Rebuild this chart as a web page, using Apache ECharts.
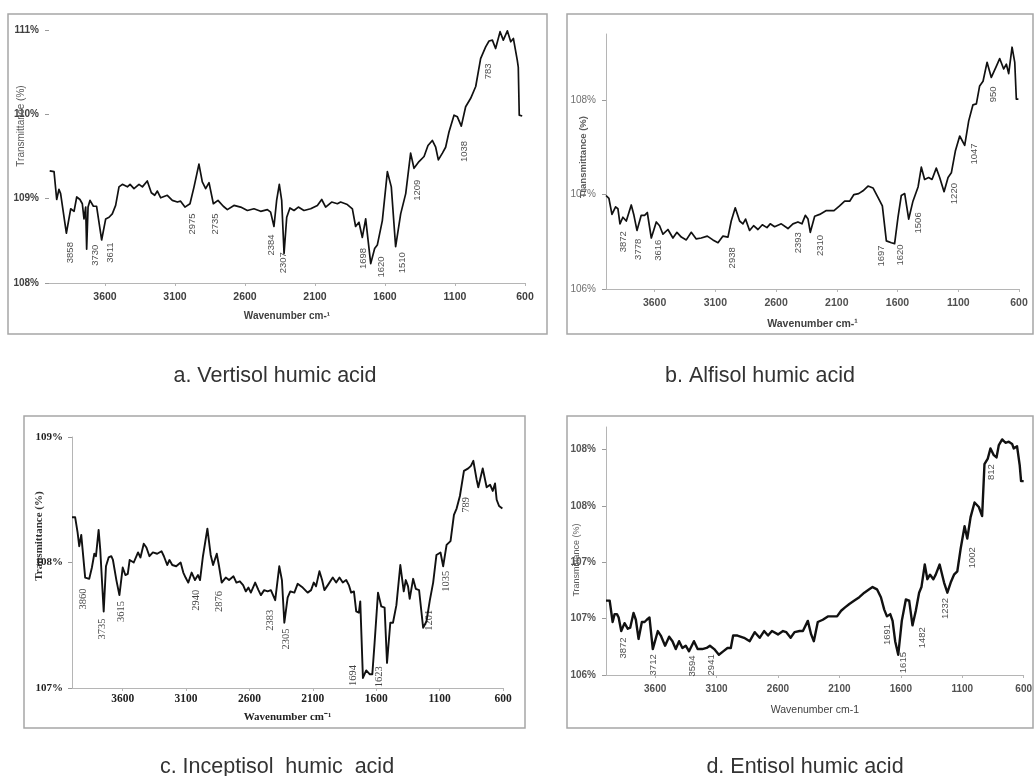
<!DOCTYPE html>
<html><head><meta charset="utf-8">
<script src="https://cdn.jsdelivr.net/npm/echarts@6/dist/echarts.min.js"></script>
<style>html,body{margin:0;padding:0;background:#fff}#c{width:1035px;height:776px}</style>
</head><body><div id="c"></div>
<script>
// ---- data (wavenumber cm-1, transmittance %) ----
const vertisol = [[3995,109.33],[3964,109.32],[3945,108.99],[3929,109.11],[3917,109.06],[3876,108.59],[3845,108.88],[3821,108.85],[3802,109.02],[3779,108.99],[3762,108.94],[3750,108.76],[3738,108.90],[3731,108.40],[3721,108.90],[3707,108.98],[3683,108.91],[3660,108.91],[3624,108.51],[3595,108.76],[3571,108.78],[3548,108.82],[3524,108.92],[3500,109.14],[3476,109.17],[3440,109.14],[3421,109.17],[3393,109.12],[3357,109.17],[3333,109.14],[3298,109.21],[3269,109.07],[3245,109.04],[3226,109.09],[3202,109.01],[3155,109.04],[3119,108.98],[3083,108.96],[3060,108.97],[3029,108.90],[2993,108.94],[2964,109.14],[2929,109.41],[2905,109.20],[2881,109.12],[2857,109.19],[2826,108.94],[2793,108.98],[2755,108.91],[2726,108.87],[2679,108.92],[2631,108.90],[2583,108.86],[2536,108.88],[2488,108.85],[2440,108.87],[2417,108.84],[2393,108.67],[2374,108.98],[2355,109.17],[2338,108.98],[2321,108.35],[2302,108.78],[2279,108.89],[2250,108.86],[2219,108.90],[2179,108.86],[2131,108.88],[2083,108.92],[2052,108.99],[2024,108.90],[1981,108.96],[1940,108.94],[1917,108.96],[1869,108.93],[1833,108.88],[1810,108.67],[1786,108.72],[1762,108.54],[1738,108.76],[1702,108.23],[1674,108.41],[1655,108.45],[1619,108.74],[1583,109.32],[1555,109.14],[1524,108.43],[1488,108.82],[1452,109.06],[1417,109.54],[1393,109.36],[1357,109.44],[1321,109.50],[1293,109.63],[1262,109.69],[1238,109.61],[1219,109.46],[1190,109.54],[1167,109.61],[1143,109.79],[1107,109.99],[1083,109.97],[1055,109.86],[1024,110.09],[988,110.19],[952,110.33],[917,110.66],[881,110.80],[857,110.87],[833,110.88],[810,110.78],[778,110.98],[755,110.88],[726,110.99],[702,110.86],[683,110.90],[655,110.64],[648,110.56],[641,109.99],[620,109.98]];
const alfisol = [[4000,106.99],[3976,106.96],[3951,106.79],[3921,106.87],[3902,106.85],[3885,106.69],[3861,106.76],[3833,106.72],[3792,106.89],[3770,106.78],[3745,106.62],[3710,106.78],[3682,106.78],[3660,106.81],[3627,106.54],[3586,106.71],[3559,106.67],[3531,106.58],[3490,106.63],[3449,106.54],[3416,106.60],[3380,106.55],[3339,106.52],[3298,106.60],[3257,106.53],[3216,106.54],[3166,106.56],[3120,106.52],[3078,106.49],[3037,106.56],[2996,106.55],[2969,106.72],[2936,106.86],[2900,106.72],[2873,106.69],[2851,106.74],[2818,106.62],[2785,106.67],[2749,106.63],[2713,106.68],[2675,106.65],[2648,106.69],[2612,106.66],[2557,106.69],[2502,106.64],[2461,106.69],[2420,106.71],[2387,106.69],[2359,106.78],[2337,106.74],[2318,106.60],[2282,106.77],[2241,106.79],[2186,106.83],[2123,106.83],[2077,106.88],[2035,106.93],[1994,106.93],[1959,107.00],[1920,107.01],[1884,107.04],[1843,107.09],[1802,107.07],[1761,106.97],[1725,106.88],[1692,106.51],[1651,106.49],[1624,106.48],[1596,106.76],[1569,106.99],[1541,107.01],[1508,106.74],[1473,106.93],[1431,107.08],[1404,107.29],[1377,107.16],[1344,107.18],[1316,107.16],[1281,107.28],[1253,107.18],[1217,107.03],[1184,107.18],[1157,107.23],[1124,107.46],[1088,107.62],[1047,107.52],[1014,107.78],[979,107.95],[951,107.96],[924,108.15],[896,108.20],[863,108.40],[828,108.24],[786,108.36],[759,108.44],[726,108.33],[704,108.38],[685,108.28],[657,108.56],[635,108.40],[622,108.01],[605,108.01]];
const inceptisol = [[4000,108.36],[3975,108.36],[3956,108.24],[3943,108.13],[3927,108.22],[3914,108.21],[3896,107.88],[3864,107.87],[3843,107.96],[3824,108.07],[3811,108.05],[3790,108.26],[3777,108.10],[3750,107.61],[3732,107.97],[3711,108.04],[3690,108.05],[3677,108.02],[3663,108.03],[3650,107.86],[3626,107.74],[3600,107.96],[3579,107.90],[3560,107.91],[3545,108.02],[3513,108.00],[3479,108.08],[3460,108.04],[3434,108.15],[3413,108.12],[3389,108.05],[3362,108.08],[3328,108.07],[3294,108.09],[3275,108.05],[3249,107.98],[3231,108.02],[3209,107.98],[3178,107.97],[3143,108.00],[3122,107.92],[3104,107.88],[3083,107.84],[3056,107.92],[3030,107.86],[3006,107.90],[2990,107.86],[2967,108.05],[2932,108.27],[2906,108.06],[2887,107.98],[2858,108.07],[2840,107.97],[2819,107.84],[2787,107.88],[2761,107.86],[2726,107.89],[2703,107.84],[2676,107.85],[2650,107.82],[2629,107.77],[2608,107.80],[2589,107.76],[2555,107.84],[2529,107.78],[2510,107.74],[2484,107.78],[2457,107.77],[2431,107.78],[2397,107.70],[2365,107.97],[2344,107.86],[2325,107.52],[2299,107.72],[2278,107.77],[2246,107.76],[2220,107.83],[2180,107.80],[2141,107.76],[2114,107.78],[2093,107.84],[2075,107.81],[2048,107.93],[2027,107.86],[2009,107.78],[1982,107.82],[1943,107.88],[1916,107.84],[1890,107.88],[1864,107.84],[1837,107.86],[1816,107.82],[1798,107.76],[1776,107.77],[1758,107.61],[1737,107.60],[1726,107.69],[1705,107.08],[1679,107.14],[1652,107.11],[1631,107.11],[1613,107.36],[1586,107.76],[1560,107.65],[1534,107.64],[1515,107.20],[1489,107.52],[1468,107.52],[1441,107.66],[1410,107.98],[1383,107.77],[1367,107.86],[1349,107.81],[1336,107.71],[1309,107.87],[1288,107.79],[1262,107.78],[1230,107.48],[1204,107.53],[1177,107.70],[1151,107.84],[1125,108.06],[1093,108.08],[1072,107.97],[1045,108.14],[1014,108.17],[987,108.38],[966,108.43],[940,108.53],[908,108.73],[874,108.75],[853,108.77],[834,108.81],[808,108.66],[795,108.60],[760,108.75],[729,108.60],[702,108.62],[681,108.57],[663,108.63],[650,108.50],[631,108.45],[605,108.43]];
const entisol = [[4000,106.66],[3970,106.66],[3946,106.47],[3930,106.54],[3911,106.54],[3897,106.51],[3876,106.39],[3849,106.46],[3822,106.41],[3803,106.42],[3776,106.55],[3757,106.49],[3735,106.32],[3708,106.47],[3686,106.47],[3668,106.49],[3646,106.51],[3619,106.23],[3578,106.39],[3554,106.35],[3519,106.26],[3486,106.34],[3459,106.30],[3432,106.23],[3405,106.30],[3378,106.24],[3351,106.26],[3324,106.21],[3284,106.30],[3254,106.23],[3216,106.23],[3181,106.24],[3154,106.26],[3119,106.23],[3081,106.18],[3046,106.21],[3011,106.24],[2984,106.24],[2965,106.35],[2930,106.35],[2876,106.33],[2830,106.30],[2789,106.38],[2749,106.33],[2713,106.39],[2681,106.35],[2649,106.39],[2600,106.36],[2559,106.39],[2532,106.38],[2497,106.33],[2465,106.38],[2424,106.39],[2397,106.39],[2357,106.48],[2330,106.36],[2308,106.30],[2276,106.47],[2235,106.49],[2194,106.52],[2154,106.52],[2119,106.52],[2086,106.57],[2054,106.60],[2019,106.63],[1978,106.66],[1938,106.69],[1897,106.73],[1857,106.76],[1830,106.78],[1794,106.76],[1762,106.69],[1735,106.58],[1713,106.52],[1686,106.54],[1667,106.48],[1646,106.30],[1621,106.18],[1592,106.48],[1559,106.67],[1532,106.66],[1505,106.44],[1478,106.57],[1451,106.73],[1432,106.78],[1405,106.98],[1384,106.85],[1362,106.89],[1335,106.85],[1316,106.89],[1284,106.98],[1248,106.82],[1221,106.73],[1194,106.82],[1167,106.89],[1140,106.92],[1113,107.12],[1081,107.32],[1059,107.21],[1032,107.40],[1000,107.53],[965,107.49],[938,107.41],[919,107.87],[892,107.92],[870,108.01],[843,107.95],[821,107.93],[802,108.04],[775,108.09],[748,108.06],[721,108.07],[694,108.05],[681,108.01],[654,108.03],[632,107.86],[621,107.72],[600,107.72]];

// peak annotations: [wavenumber, transmittance, text]
const peaksA = [[3845,108.36,'3858'],[3667,108.33,'3730'],[3564,108.36,'3611'],[2976,108.70,'2975'],[2810,108.70,'2735'],[2412,108.45,'2384'],[2326,108.24,'2307'],[1755,108.29,'1698'],[1624,108.19,'1620'],[1476,108.24,'1510'],[1369,109.10,'1209'],[1036,109.56,'1038'],[862,110.51,'783']];
const peaksB = [[3855,106.50,'3872'],[3732,106.42,'3778'],[3567,106.41,'3616'],[2963,106.33,'2938'],[2414,106.49,'2393'],[2233,106.46,'2310'],[1733,106.35,'1697'],[1574,106.36,'1620'],[1426,106.70,'1506'],[1130,107.01,'1220'],[970,107.43,'1047'],[814,108.06,'950']];
const peaksC = [[3909,107.71,'3860'],[3764,107.47,'3735'],[3611,107.61,'3615'],[3019,107.70,'2940'],[2840,107.69,'2876'],[2439,107.54,'2383'],[2312,107.39,'2305'],[1779,107.10,'1694'],[1573,107.09,'1623'],[1183,107.54,'1201'],[1045,107.85,'1035'],[887,108.46,'789']];
const peaksD = [[3857,106.24,'3872'],[3614,106.09,'3712'],[3297,106.08,'3594'],[3140,106.09,'2941'],[1708,106.36,'1691'],[1578,106.11,'1615'],[1424,106.33,'1482'],[1235,106.59,'1232'],[1019,107.04,'1002'],[865,107.80,'812']];

// axes
const xRange = [600, 4000];
const xTicks = [600, 1100, 1600, 2100, 2600, 3100, 3600];
const yRangeA = [108, 111], yTicksA = [108, 109, 110, 111], yLabelsA = ['108%', '109%', '110%', '111%'];
const yRangeB = [106, 108.7], yTicksB = [106, 107, 108], yLabelsB = ['106%', '107%', '108%'];
const yRangeC = [107, 109], yTicksC = [107, 108, 109], yLabelsC = ['107%', '108%', '109%'];
const yRangeD = [106, 108.2], yTicksD = [106, 106.5, 107, 107.5, 108], yLabelsD = ['106%', '107%', '107%', '108%', '108%'];

const captions = ['a. Vertisol humic acid', 'b. Alfisol humic acid', 'c. Inceptisol  humic  acid', 'd. Entisol humic acid'];
const xTitles = ['Wavenumber cm-\u00b9', 'Wavenumber cm-\u00b9', 'Wavenumber cm\u207b\u00b9', 'Wavenumber cm-1'];
const yTitle = 'Transmittance (%)';

// ---- layout / style ----
const SANS = "'Liberation Sans', Arial, sans-serif";
const SERIF = "'Liberation Serif', 'Times New Roman', serif";
const panels = [
  { data: vertisol, peaks: peaksA, yr: yRangeA, yt: yTicksA, yl: yLabelsA,
    grid: { left: 49, top: 30, width: 476, height: 253 }, fam: SANS,
    xl: { size: 10.5, w: 'bold', c: '#404040', m: 9 }, yl2: { size: 10, w: 'bold', c: '#404040', m: 10 },
    yLine: false, xt: { size: 10, w: 'bold', c: '#404040', gap: 28 }, pk: { size: 9.5, c: '#222' }, lw: 1.7,
    yT: { x: 21, y: 126, size: 10, w: 'normal', c: '#5a5a5a' }, frame: [8, 14, 539, 320], cap: [275, 376] },
  { data: alfisol, peaks: peaksB, yr: yRangeB, yt: yTicksB, yl: yLabelsB,
    grid: { left: 606, top: 34, width: 413, height: 255 }, fam: SANS,
    xl: { size: 10.5, w: 'bold', c: '#505050', m: 9 }, yl2: { size: 10, w: 'normal', c: '#707070', m: 10 },
    yLine: true, xt: { size: 10.5, w: 'bold', c: '#404040', gap: 30 }, pk: { size: 9.5, c: '#222' }, lw: 1.7,
    yT: { x: 583, y: 157, size: 9.5, w: 'bold', c: '#5a5a5a' }, frame: [567, 14, 466, 320], cap: [760, 376] },
  { data: inceptisol, peaks: peaksC, yr: yRangeC, yt: yTicksC, yl: yLabelsC,
    grid: { left: 72, top: 437, width: 431, height: 251 }, fam: SERIF,
    xl: { size: 11.5, w: 'bold', c: '#222', m: 5 }, yl2: { size: 11, w: 'bold', c: '#222', m: 9 },
    yLine: true, xt: { size: 11, w: 'bold', c: '#222', gap: 24 }, pk: { size: 10.5, c: '#111' }, lw: 1.9,
    yT: { x: 39, y: 536, size: 11, w: 'bold', c: '#333' }, frame: [24, 416, 501, 312], cap: [277, 767] },
  { data: entisol, peaks: peaksD, yr: yRangeD, yt: yTicksD, yl: yLabelsD,
    grid: { left: 606, top: 427, width: 419, height: 248 }, fam: SANS,
    xl: { size: 10, w: 'bold', c: '#505050', m: 9 }, yl2: { size: 10, w: 'bold', c: '#555', m: 10 },
    yLine: true, xt: { size: 10.5, w: 'normal', c: '#404040', gap: 30 }, pk: { size: 9.5, c: '#222' }, lw: 2.4,
    yT: { x: 577, y: 560, size: 9, w: 'normal', c: '#5a5a5a' }, frame: [567, 416, 466, 312], cap: [805, 767] }
];

const grid = [], xAxis = [], yAxis = [], series = [], graphic = [];
panels.forEach((p, i) => {
  grid.push(Object.assign({ containLabel: false }, p.grid));
  xAxis.push({
    type: 'value', gridIndex: i, inverse: true, min: xRange[0], max: xRange[1],
    name: xTitles[i], nameLocation: 'middle', nameGap: p.xt.gap,
    nameTextStyle: { fontFamily: p.fam, fontSize: p.xt.size, fontWeight: p.xt.w, color: p.xt.c },
    axisLine: { show: true, lineStyle: { color: '#b5b5b5', width: 1 } },
    axisTick: { show: true, length: 3, customValues: xTicks, lineStyle: { color: '#b5b5b5' } },
    axisLabel: { customValues: xTicks, margin: p.xl.m, fontFamily: p.fam, fontSize: p.xl.size, fontWeight: p.xl.w, color: p.xl.c,
      formatter: v => String(v) },
    splitLine: { show: false }
  });
  const yt = p.yt, yl = p.yl;
  yAxis.push({
    type: 'value', gridIndex: i, min: p.yr[0], max: p.yr[1],
    axisLine: { show: p.yLine, lineStyle: { color: '#b5b5b5', width: 1 } },
    axisTick: { show: true, length: 4, customValues: yt, lineStyle: { color: '#9a9a9a' } },
    axisLabel: { customValues: yt, margin: p.yl2.m, fontFamily: p.fam, fontSize: p.yl2.size, fontWeight: p.yl2.w, color: p.yl2.c,
      formatter: v => { let k = 0; yt.forEach((t, j) => { if (Math.abs(t - v) < Math.abs(yt[k] - v)) k = j; }); return yl[k]; } },
    splitLine: { show: false }
  });
  series.push({
    type: 'line', xAxisIndex: i, yAxisIndex: i, data: p.data, showSymbol: false, symbol: 'none',
    lineStyle: { color: '#111', width: p.lw, join: 'round' }, silent: true, z: 3
  });
  series.push({
    type: 'scatter', xAxisIndex: i, yAxisIndex: i, data: p.peaks, symbolSize: 1,
    itemStyle: { color: 'rgba(0,0,0,0)' }, silent: true, z: 4,
    label: { show: true, position: 'inside', rotate: 90, fontFamily: p.fam, fontSize: p.pk.size, color: p.pk.c,
      formatter: d => d.data[2] }
  });
  graphic.push({ type: 'rect', shape: { x: p.frame[0], y: p.frame[1], width: p.frame[2], height: p.frame[3] },
    style: { fill: 'none', stroke: '#a6a6a6', lineWidth: 1.5 }, silent: true });
  graphic.push({ type: 'text', x: p.yT.x, y: p.yT.y, rotation: Math.PI / 2,
    style: { text: yTitle, fontFamily: p.fam, fontSize: p.yT.size, fontWeight: p.yT.w, fill: p.yT.c, align: 'center', verticalAlign: 'middle' }, z: 10 });
  graphic.push({ type: 'text', x: p.cap[0], y: p.cap[1],
    style: { text: captions[i], fontFamily: SANS, fontSize: 21.5, fill: '#333', align: 'center', verticalAlign: 'middle' } });
});

const chart = echarts.init(document.getElementById('c'), null, { renderer: 'canvas' });
chart.setOption({ animation: false, backgroundColor: '#fff', grid, xAxis, yAxis, series, graphic });
</script>
</body></html>
